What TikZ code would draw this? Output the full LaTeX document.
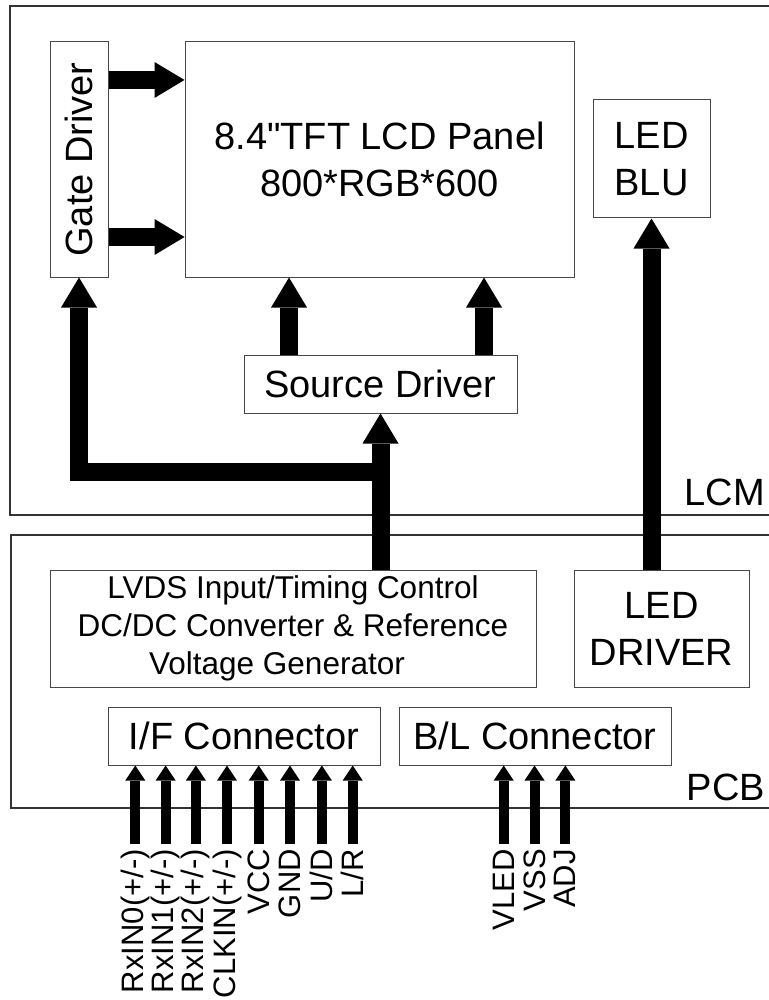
\documentclass[tikz,border=0pt]{standalone}
\usepackage{fontspec}
\setmainfont{Liberation Sans}
\newfontfamily\plainquote{Liberation Sans}
\usetikzlibrary{arrows.meta,calc}
\begin{document}
\begin{tikzpicture}[x=1pt,y=-1pt,
  box/.style={draw=black!72, line width=1pt, inner sep=0pt, align=center, font=\fontsize{38}{47}\selectfont},
  frame/.style={draw=black!80, line width=1.1pt},
  bus/.style={line width=18pt, draw=black, line join=miter, -{Triangle[width=36pt,length=30pt,line width=0pt]}},
  pin/.style={line width=10pt, draw=black, -{Triangle[width=20pt,length=15pt,line width=0pt]}},
  pinlab/.style={rotate=90, anchor=east, inner sep=0pt, font=\fontsize{31}{36}\selectfont},
  big/.style={font=\fontsize{38}{47}\selectfont, inner sep=0pt}
]
\useasboundingbox (0,0) rectangle (768,1000);
% frames
\draw[frame] (770,6) -- (10,6) -- (10,515) -- (770,515);
\draw[frame] (770,535) -- (11,535) -- (11,808) -- (770,808);
% boxes
\node[box, minimum width=58pt, minimum height=235pt] (gate) at (79,159.5) {\rotatebox{90}{Gate Driver}};
\node[box, minimum width=389pt, minimum height=235pt] (panel) at (379.5,159.5) {8.4{\plainquote"}TFT LCD Panel\\800*RGB*600};
\node[box, minimum width=117pt, minimum height=118pt] (blu) at (651.5,159) {LED\\BLU};
\node[box, minimum width=273pt, minimum height=58pt] (src) at (380.5,384) {Source Driver};
\node[box, minimum width=486pt, minimum height=117pt, font=\fontsize{31.5}{38}\selectfont] (lvds) at (293,628.5) {LVDS Input/Timing Control\\DC/DC Converter \& Reference\\Voltage Generator\hspace*{32pt}};
\node[box, minimum width=175pt, minimum height=117pt] (drv) at (661.5,628.5) {LED\\DRIVER};
\node[box, minimum width=272pt, minimum height=58pt] (ifc) at (244,736) {I/F Connector};
\node[box, minimum width=272pt, minimum height=58pt] (blc) at (535,736) {B/L Connector};
% region labels
\node[big, anchor=base east] (lcm) at (765,505) {LCM};
\node[big, anchor=base east] (pcb) at (765,800) {PCB};
% helper coordinates
\coordinate (g1) at (0,80);
\coordinate (g2) at (0,237);
\coordinate (s1) at (289,0);
\coordinate (s2) at (484,0);
\coordinate (j) at (0,472);
% bus arrows
\draw[bus] (gate.east |- g1) -- (panel.west |- g1);
\draw[bus] (gate.east |- g2) -- (panel.west |- g2);
\draw[bus] (src.north -| s1) -- (panel.south -| s1);
\draw[bus] (src.north -| s2) -- (panel.south -| s2);
\draw[bus] (lvds.north -| src.south) -- (src.south);
\draw[bus] (src.south |- j) -- (gate.south |- j) -- (gate.south);
\draw[bus] (blu.south |- drv.north) -- (blu.south);
% pin labels
\node[pinlab] (p1) at (135.3,849) {RxIN0(+/-)};
\node[pinlab] (p2) at (165.6,849) {RxIN1(+/-)};
\node[pinlab] (p3) at (195.9,849) {RxIN2(+/-)};
\node[pinlab] (p4) at (227,849) {CLKIN(+/-)};
\node[pinlab] (p5) at (258.7,849) {VCC};
\node[pinlab] (p6) at (290,849) {GND};
\node[pinlab] (p7) at (321.9,849) {U/D};
\node[pinlab] (p8) at (352.7,849) {L/R};
\node[pinlab] (q1) at (503.7,849) {VLED};
\node[pinlab] (q2) at (534.5,849) {VSS};
\node[pinlab] (q3) at (565.4,849) {ADJ};
\foreach \p in {p1,p2,p3,p4,p5,p6,p7,p8}
  \draw[pin] ([yshift=5pt]\p.east) -- (\p.east |- ifc.south);
\foreach \q in {q1,q2,q3}
  \draw[pin] ([yshift=5pt]\q.east) -- (\q.east |- blc.south);
\end{tikzpicture}
\end{document}
